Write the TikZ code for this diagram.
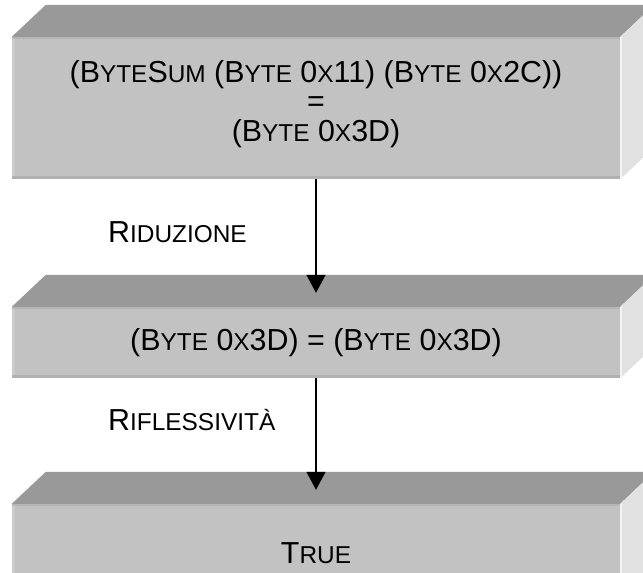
\documentclass[tikz,border=0pt]{standalone}
\usepackage{fontspec}
\setmainfont{Liberation Sans}
\usetikzlibrary{arrows.meta,calc}
\definecolor{topgray}{HTML}{999999}
\definecolor{frontgray}{HTML}{C2C2C2}
\definecolor{sidegray}{HTML}{E1E1E1}
\definecolor{edgelight}{HTML}{CBCBCB}
\definecolor{edgedark}{HTML}{B1B1B1}
% fake small capitals: lower-case letters set as smaller capitals
\newcommand{\smc}[1]{{\fontsize{24.5}{24.5}\selectfont #1}}
% extruded slab behind a front-face node
\newcommand{\slab}[1]{%
  \fill[topgray] (#1.north west) -- ++(34,-32) -- ($(#1.north east)+(34,-32)$) -- (#1.north east) -- cycle;
  \fill[sidegray] (#1.north east) -- ++(34,-32) -- ($(#1.south east)+(34,-32)$) -- (#1.south east) -- cycle;
  \fill[white!60!sidegray] (#1.north east) -- ++(2,0) -- ($(#1.south east)+(2,0)$) -- (#1.south east) -- cycle;
  \fill[edgelight] (#1.north west) rectangle ($(#1.south west)+(3,0)$);
  \fill[edgedark] ($(#1.south west)+(0,-3)$) rectangle (#1.south east);
  \fill[edgedark!70!frontgray] (#1.north west) rectangle ($(#1.north east)+(0,2)$);
}
\begin{document}
\begin{tikzpicture}[x=1bp,y=-1bp,
  front/.style={fill=frontgray,minimum width=608bp,inner sep=0pt,
    font=\fontsize{30.5}{28}\selectfont,align=center},
  boxtext/.style={inner sep=0pt,font=\fontsize{30.5}{29.5}\selectfont,align=center},
  steplabel/.style={anchor=west,inner sep=0pt,font=\fontsize{30.5}{28}\selectfont},
  flow/.style={line width=1.4bp,-{Triangle[width=19bp,length=18bp]}}]
\useasboundingbox (0,0) rectangle (643,573);
\clip (0,0) rectangle (643,573);

\node[front,minimum height=142bp] (b1) at (316,108) {};
\slab{b1}
\node[boxtext] (t1) at (316,104)
  {(B\smc{YTE}S\smc{UM} (B\smc{YTE} 0\smc{X}11) (B\smc{YTE} 0\smc{X}2C))\\=\\(B\smc{YTE} 0\smc{X}3D)};

\node[front,minimum height=71bp] (b2) at (316,342.5)
  {(B\smc{YTE} 0\smc{X}3D) = (B\smc{YTE} 0\smc{X}3D)};
\slab{b2}

\node[front,minimum height=98bp] (b3) at (316,553) {T\smc{RUE}};
\slab{b3}

\draw[flow] (b1.south) -- ([yshift=14bp]b2.north);
\draw[flow] (b2.south) -- ([yshift=14bp]b3.north);

\node[steplabel] (l1) at (108,232) {R\smc{IDUZIONE}};
\node[steplabel] (l2) at (108,420) {R\smc{IFLESSIVITÀ}};
\end{tikzpicture}
\end{document}
